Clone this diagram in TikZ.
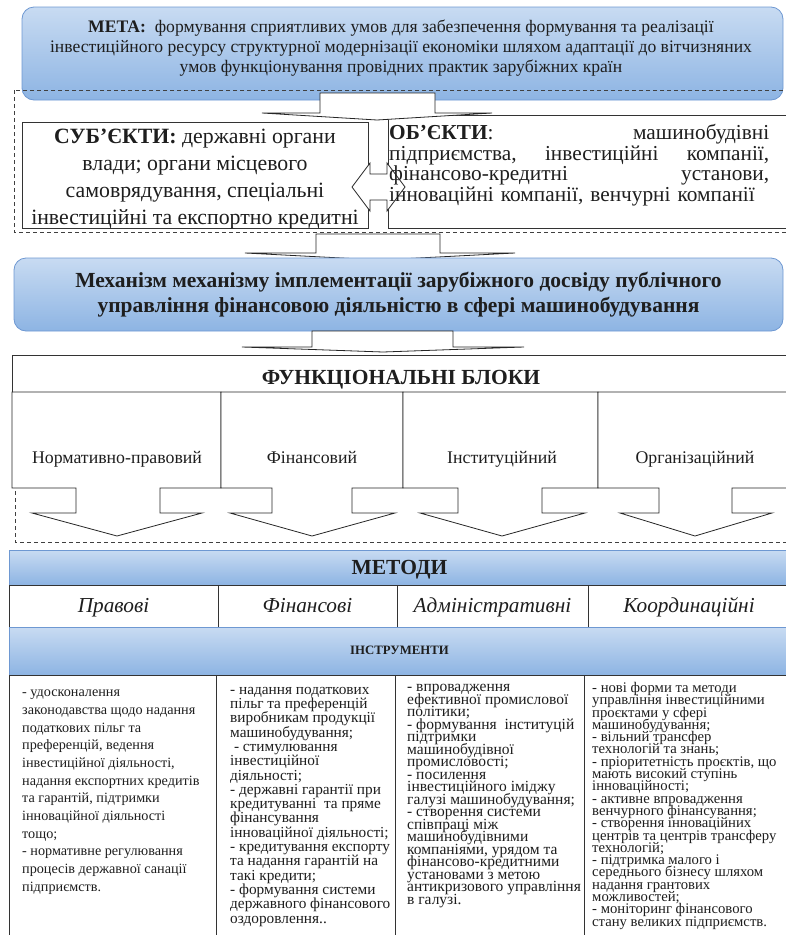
\documentclass[tikz,border=0pt]{standalone}
\usepackage{fontspec}
\setmainfont{Liberation Serif}
\usetikzlibrary{positioning}

\definecolor{barlight}{RGB}{200,219,242}
\definecolor{bardark}{RGB}{141,180,227}
\definecolor{baredge}{RGB}{110,152,210}
\definecolor{inktext}{RGB}{30,30,30}

\lineskiplimit=-\maxdimen

\tikzset{
  bluebox/.style={draw=baredge, top color=barlight, bottom color=bardark, line width=0.8pt, inner sep=0pt, text=inktext},
  whitebox/.style={draw=black!80, fill=white, line width=0.8pt, inner sep=0pt, text=inktext},
  blockarrow/.style={draw=black!85, fill=white, line width=0.8pt},
  framesep/.style={draw=black!75, line width=0.7pt, dash pattern=on 4pt off 3pt},
  coltext/.style={inner sep=0pt, align=left, anchor=north west, text=inktext},
}

\begin{document}
\begin{tikzpicture}[x=1pt,y=-1pt]
		\useasboundingbox (0,0) rectangle (785,935);

		%goal
		\node[bluebox, rounded corners=12pt, minimum width=761pt, minimum height=93pt] (meta) at (402.5,53.5) {};
		\node[inner sep=0pt, align=center, text=inktext, font=\fontsize{17.6}{20}\selectfont]
			(metatext) at (401,48)
			{\textbf{МЕТА:} \ формування сприятливих умов для забезпечення формування та реалізації\\
			інвестиційного ресурсу структурної модернізації економіки шляхом адаптації до вітчизняних\\
			умов функціонування провідних практик зарубіжних країн};

		%subjects & objects
		\node[whitebox, minimum width=346pt, minimum height=106pt] (subj) at (195,175) {};
		\begin{scope}
			\clip (subj.south west) rectangle (subj.north east);
			\node[inner sep=0pt, align=center, anchor=north, text=inktext,
				font=\fontsize{21.8}{27}\selectfont] (subjtext) at ([yshift=-3pt]subj.north)
				{\strut\textbf{СУБ’ЄКТИ:} державні органи\\ влади; органи місцевого\\
				самоврядування, спеціальні\\ інвестиційні та експортно кредитні};
		\end{scope}
		\node[whitebox, minimum width=404pt, minimum height=113pt] (obj) at (590,171.5) {};

		%frame round subjects & objects
		\draw[framesep] (14,90) rectangle (792,232);

		%arrow from goal
		\draw[blockarrow] (320,93) -- (320,113) -- (262,113) -- (377,120) -- (492,113)
			-- (435,113) -- (435,93) -- cycle;

		%double arrow
		\draw[blockarrow] (352,187) -- (370,163) -- (370,174) -- (387,174) -- (387,163)
			-- (405,187) -- (387,211) -- (387,200) -- (370,200) -- (370,211) -- cycle;

		\node[coltext, text width=380pt, font=\fontsize{21.3}{18.7}\selectfont] (objtext) at (389,124)
			{\strut\textbf{ОБ’ЄКТИ}:\hfill машинобудівні\\
			підприємства,\hfill інвестиційні\hfill компанії,\\
			фінансово-кредитні\hfill установи,\\
			інноваційні компанії, венчурні компанії};

		%arrow to mechanism
		\draw[blockarrow] (316,234) -- (316,253) -- (245,253) -- (380,260) -- (515,253)
			-- (440,253) -- (440,234) -- cycle;

		%mechanism
		\node[bluebox, rounded corners=12pt, minimum width=769pt, minimum height=73pt,
			align=center, font=\bfseries\fontsize{21.5}{25}\selectfont] (mech) at (398.5,294.5)
			{Механізм механізму імплементації зарубіжного досвіду публічного\\
			управління фінансовою діяльністю в сфері машинобудування};

		%arrow to functional blocks
		\draw[blockarrow] (312,331) -- (312,347) -- (242,347) -- (383,352) -- (524,347)
			-- (453,347) -- (453,331) -- cycle;

		%frame round functional blocks
		\draw[framesep] (15,365) rectangle (792,542);

		%functional blocks
		\node[whitebox, minimum width=778pt, minimum height=37pt, text height=24pt, text depth=3pt,
			font=\bfseries\fontsize{21.5}{24}\selectfont] (fbtitle) at (401,373.5)
			{ФУНКЦІОНАЛЬНІ БЛОКИ};
		\foreach \xl/\xr/\sl/\sr/\hl/\hr/\tx/\lbl [count=\i] in {
			12/221/76/160/32/202/117/Нормативно-правовий,
			221/403/272/352/230/395/312/Фінансовий,
			403/598/458/542/420/585/502/Інституційний,
			598/792/659/732/620/772/695/Організаційний}
		{
			\draw[blockarrow] (\xl,392) -- (\xr,392) -- (\xr,488) -- (\sr,488) -- (\sr,513)
				-- (\hr,513) -- (\tx,536) -- (\hl,513) -- (\sl,513) -- (\sl,488) -- (\xl,488) -- cycle;
			\node[anchor=base, inner sep=0pt, text=inktext, font=\fontsize{17.8}{20}\selectfont]
				(fb\i) at (\tx,463) {\lbl};
		}

		%methods
		\node[bluebox, minimum width=781pt, minimum height=35pt, text height=15pt, text depth=2pt,
			font=\bfseries\fontsize{21.5}{24}\selectfont] (methods) at (399.5,567.5) {МЕТОДИ};
		\foreach \xl/\xr/\lbl [count=\i] in {9/218/Правові, 218/397/Фінансові,
			397/588/Адміністративні, 588/790/Координаційні}
			\node[whitebox, minimum width={(\xr-\xl)*1pt}, minimum height=42pt,
				text height=16pt, text depth=4pt,
				font=\itshape\fontsize{21.3}{24}\selectfont] (m\i) at ({(\xl+\xr)/2},606) {\lbl};

		%tools
		\node[bluebox, minimum width=781pt, minimum height=48pt, text height=9pt, text depth=3pt,
			font=\bfseries\fontsize{12.8}{15}\selectfont] (tools) at (399.5,651) {ІНСТРУМЕНТИ};
		\foreach \xl/\xr [count=\i] in {9/216, 216/395, 395/584, 584/792}
			\node[whitebox, minimum width={(\xr-\xl)*1pt}, minimum height=270pt]
				(t\i) at ({(\xl+\xr)/2},810) {};

		\node[coltext, font=\fontsize{14.2}{17.7}\selectfont] (t1text) at (22,684)
			{\strut- удосконалення\\ законодавства щодо надання\\ податкових пільг та\\
			преференцій, ведення\\ інвестиційної діяльності,\\ надання експортних кредитів\\
			та гарантій, підтримки\\ інноваційної діяльності\\ тощо;\\
			- нормативне регулювання\\ процесів державної санації\\ підприємств.};
		\node[coltext, font=\fontsize{15.3}{14.3}\selectfont] (t2text) at (230,684)
			{\strut- надання податкових\\ пільг та преференцій\\ виробникам продукції\\
			машинобудування;\\ \ - стимулювання\\ інвестиційної\\ діяльності;\\
			- державні гарантії при\\ кредитуванні \ та пряме\\ фінансування\\
			інноваційної діяльності;\\ - кредитування експорту\\ та надання гарантій на\\
			такі кредити;\\ - формування системи\\ державного фінансового\\ оздоровлення..};
		\node[coltext, font=\fontsize{15.5}{12.5}\selectfont] (t3text) at (407,683)
			{\strut- впровадження\\ ефективної промислової\\ політики;\\
			- формування \ інституцій\\ підтримки\\ машинобудівної\\ промисловості;\\
			- посилення\\ інвестиційного іміджу\\ галузі машинобудування;\\
			- створення системи\\ співпраці між\\ машинобудівними\\ компаніями, урядом та\\
			фінансово-кредитними\\ установами з метою\\ антикризового управління\\ в галузі.};
		\node[coltext, font=\fontsize{14.7}{12.3}\selectfont] (t4text) at (592,682)
			{\strut- нові форми та методи\\ управління інвестиційними\\ проєктами у сфері\\
			машинобудування;\\ - вільний трансфер\\ технологій та знань;\\
			- пріоритетність проєктів, що\\ мають високий ступінь\\ інноваційності;\\
			- активне впровадження\\ венчурного фінансування;\\ - створення інноваційних\\
			центрів та центрів трансферу\\ технологій;\\ - підтримка малого і\\
			середнього бізнесу шляхом\\ надання грантових\\ можливостей;\\
			- моніторинг фінансового\\ стану великих підприємств.};

	\end{tikzpicture}
\end{document}
